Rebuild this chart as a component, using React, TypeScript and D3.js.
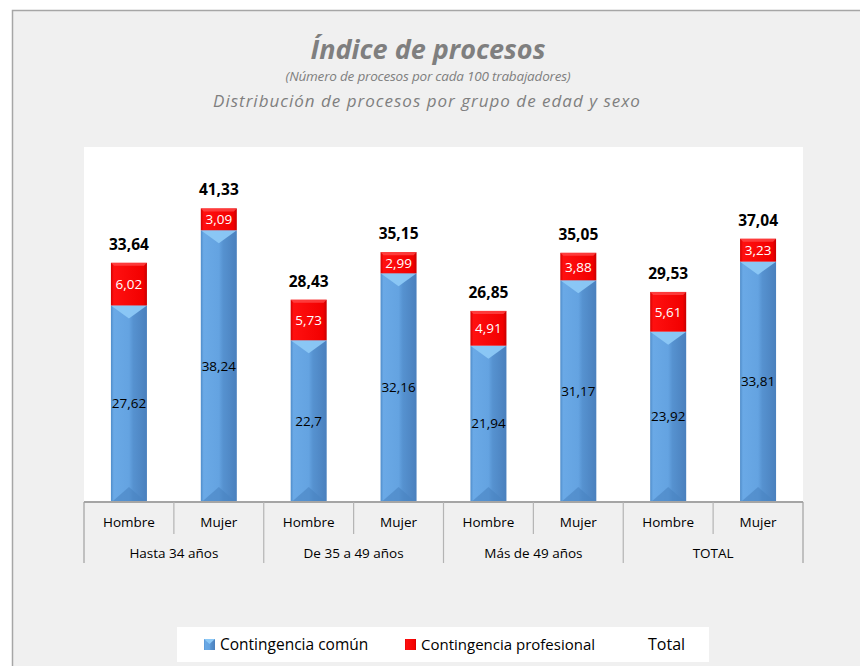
import * as d3 from 'd3';

const CATEGORIES = ['Hombre', 'Mujer', 'Hombre', 'Mujer', 'Hombre', 'Mujer', 'Hombre', 'Mujer'];
const GROUPS = ['Hasta 34 años', 'De 35 a 49 años', 'Más de 49 años', 'TOTAL'];
const COMUN = [27.62, 38.24, 22.7, 32.16, 21.94, 31.17, 23.92, 33.81];
const PROFESIONAL = [6.02, 3.09, 5.73, 2.99, 4.91, 3.88, 5.61, 3.23];
const TOTAL = [33.64, 41.33, 28.43, 35.15, 26.85, 35.05, 29.53, 37.04];
const LEGEND = ['Contingencia común', 'Contingencia profesional', 'Total'];

const W = 860;
const H = 666;
const PLOT = { left: 84, right: 803, top: 147, bottom: 501 };
const FONT = "'Open Sans', 'Noto Sans', sans-serif";
const BAR_W = 36;

const fmt = (v: number) => String(v).replace('.', ',');

export default function App() {
  const x = d3.scaleBand<number>()
    .domain(d3.range(CATEGORIES.length))
    .range([PLOT.left, PLOT.right]);
  const y = d3.scaleLinear().domain([0, 50]).range([PLOT.bottom, PLOT.top]);
  const groupW = x.bandwidth() * 2;

  return (
    <svg width={W} height={H} style={{ position: 'absolute', left: 0, top: 0 }} fontFamily={FONT}>
      <defs>
        <linearGradient id="blue" x1="0" x2="1" y1="0" y2="0">
          <stop offset="0" stopColor="#4f8cc9" />
          <stop offset="0.08" stopColor="#6aa9e6" />
          <stop offset="0.5" stopColor="#64a3e1" />
          <stop offset="0.62" stopColor="#5692d0" />
          <stop offset="1" stopColor="#4a80bd" />
        </linearGradient>
        <linearGradient id="red" x1="0" x2="1" y1="0" y2="0">
          <stop offset="0" stopColor="#d40000" />
          <stop offset="0.08" stopColor="#ff1010" />
          <stop offset="0.9" stopColor="#f20000" />
          <stop offset="1" stopColor="#c80000" />
        </linearGradient>
      </defs>

      {/* outer frame */}
      <rect x={0} y={0} width={W} height={H} fill="#ffffff" />
      <rect x={12.5} y={10.5} width={W} height={H} fill="#f0f0f0" stroke="#a6a6a6" strokeWidth={1.5} />

      {/* titles */}
      <text x={428} y={59} textAnchor="middle" fill="#7f7f7f" fontSize={27} fontWeight="bold" fontStyle="italic">
        Índice de procesos
      </text>
      <text x={428} y={81} textAnchor="middle" fill="#7f7f7f" fontSize={13.5} fontStyle="italic" letterSpacing={-0.2}>
        (Número de procesos por cada 100 trabajadores)
      </text>
      <text x={427} y={107} textAnchor="middle" fill="#7f7f7f" fontSize={17} fontStyle="italic" letterSpacing={1}>
        Distribución de procesos por grupo de edad y sexo
      </text>

      {/* plot area */}
      <rect x={PLOT.left} y={PLOT.top} width={PLOT.right - PLOT.left} height={PLOT.bottom - PLOT.top} fill="#ffffff" />

      {/* bars */}
      {COMUN.map((c, i) => {
        const bx = (x(i) as number) + x.bandwidth() / 2 - BAR_W / 2;
        const yc = y(c);
        const yt = y(c + PROFESIONAL[i]);
        const cx = bx + BAR_W / 2;
        return (
          <g key={i}>
            <rect x={bx} y={yc} width={BAR_W} height={PLOT.bottom - yc} fill="url(#blue)" />
            <polygon points={`${bx},${yc} ${bx + BAR_W},${yc} ${cx},${yc + 13}`} fill="#8cc8f6" opacity={0.95} />
            <polygon points={`${bx + 2},${PLOT.bottom} ${bx + BAR_W - 2},${PLOT.bottom} ${cx},${PLOT.bottom - 14}`} fill="#4a84c2" opacity={0.6} />
            <rect x={bx} y={yt} width={BAR_W} height={yc - yt} fill="url(#red)" />
            <polygon points={`${bx},${yt} ${bx + BAR_W},${yt} ${bx + BAR_W - 3},${yt + 3} ${bx + 3},${yt + 3}`} fill="#ff5050" opacity={0.7} />
            <text x={cx} y={(yt + yc) / 2 + 5} textAnchor="middle" fill="#ffffff" fontSize={13.5}>
              {fmt(PROFESIONAL[i])}
            </text>
            <text x={cx} y={(yc + PLOT.bottom) / 2 + 5} textAnchor="middle" fill="#000000" fontSize={13.5}>
              {fmt(c)}
            </text>
            <text x={cx} y={y(TOTAL[i]) - 13} textAnchor="middle" fill="#000000" fontSize={15.5} fontWeight="bold">
              {fmt(TOTAL[i])}
            </text>
          </g>
        );
      })}

      {/* category table */}
      <line x1={PLOT.left} x2={PLOT.right} y1={502} y2={502} stroke="#8c8c8c" strokeWidth={1.5} />
      {d3.range(CATEGORIES.length + 1).map((i) => {
        const lx = PLOT.left + i * x.bandwidth();
        const full = i % 2 === 0;
        return (
          <line key={i} x1={lx} x2={lx} y1={502} y2={full ? 563 : 534}
            stroke={full && (i === 0 || i === CATEGORIES.length) ? '#a0a0a0' : '#b4b4b4'} strokeWidth={1.2} />
        );
      })}
      {CATEGORIES.map((c, i) => (
        <text key={i} x={(x(i) as number) + x.bandwidth() / 2} y={527} textAnchor="middle" fill="#000" fontSize={13.5}>
          {c}
        </text>
      ))}
      {GROUPS.map((g, i) => (
        <text key={g} x={PLOT.left + i * groupW + groupW / 2} y={558} textAnchor="middle" fill="#000" fontSize={13.5}>
          {g}
        </text>
      ))}

      {/* legend */}
      <rect x={177} y={627} width={532} height={35} fill="#ffffff" />
      <rect x={204} y={639} width={11} height={11} fill="url(#blue)" />
      <polygon points="204,639 215,639 209.5,644" fill="#8cc8f6" />
      <text x={220} y={650} fill="#000" fontSize={15.5}>{LEGEND[0]}</text>
      <rect x={405} y={639} width={11} height={11} fill="url(#red)" />
      <text x={421} y={650} fill="#000" fontSize={15}>{LEGEND[1]}</text>
      <text x={648} y={650} fill="#000" fontSize={16}>{LEGEND[2]}</text>
    </svg>
  );
}
